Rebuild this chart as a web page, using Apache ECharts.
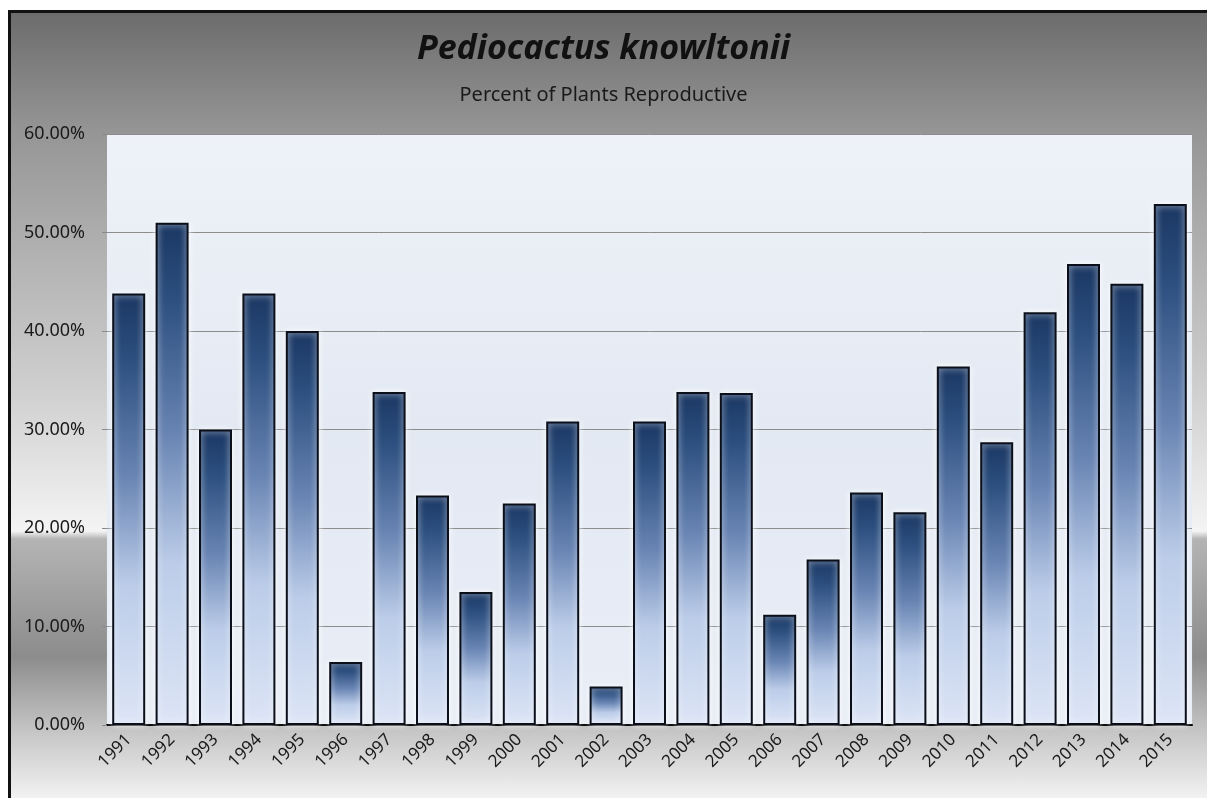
<!DOCTYPE html>
<html>
<head>
<meta charset="utf-8">
<script src="https://cdn.jsdelivr.net/npm/echarts@6/dist/echarts.min.js"></script>
<style>
    html, body { margin: 0; padding: 0; background: #fff; }
    .frame {
        position: absolute;
        left: 8px;
        top: 10px;
        width: 1199px;
        height: 788px;
        box-sizing: border-box;
        border-top: 3px solid #111;
        border-left: 3px solid #111;
        background: linear-gradient(to bottom,
            #6c6c6c 0%, #959595 15%, #b2b2b2 31%, #cfcfcf 48%,
            #f4f4f4 66%, #b4b4b4 67%, #8c8c8c 82%, #c8c8c8 92%, #f2f2f2 100%);
    }
    #chart { position: absolute; left: 0; top: 0; width: 1207px; height: 798px; }
</style>
</head>
<body>
<div class="frame"></div>
<div id="chart"></div>
<script>
const years = ['1991', '1992', '1993', '1994', '1995', '1996', '1997', '1998', '1999', '2000',
    '2001', '2002', '2003', '2004', '2005', '2006', '2007', '2008', '2009', '2010',
    '2011', '2012', '2013', '2014', '2015']
// percent of plants reproductive
const pctReproductive = [43.8, 51.0, 30.0, 43.8, 40.0, 6.4, 33.8, 23.3, 13.5, 22.5,
    30.8, 3.9, 30.8, 33.8, 33.7, 11.2, 16.8, 23.6, 21.6, 36.4,
    28.7, 41.9, 46.8, 44.8, 52.9]
const yTicks = [0, 10, 20, 30, 40, 50, 60]

const chart = echarts.init(document.getElementById('chart'))
const font = "'Noto Sans', 'Open Sans', sans-serif"

chart.setOption({
    animation: false,
    title: [{
        text: 'Pediocactus knowltonii',
        left: 'center',
        top: 27,
        textStyle: {
            fontFamily: font,
            fontSize: 34,
            fontWeight: 'bold',
            fontStyle: 'italic',
            color: '#111'
        }
    }, {
        text: 'Percent of Plants Reproductive',
        left: 'center',
        top: 80,
        textStyle: {
            fontFamily: font,
            fontSize: 20,
            fontWeight: 'normal',
            color: '#1a1a1a'
        }
    }],
    grid: {
        left: 107,
        right: 15,
        top: 134,
        bottom: 73,
        show: true,
        borderWidth: 0,
        backgroundColor: new echarts.graphic.LinearGradient(0, 0, 0, 1, [
            { offset: 0, color: '#eef2f8' },
            { offset: 0.5, color: '#e3e9f3' },
            { offset: 1, color: '#e8edf6' }
        ])
    },
    xAxis: {
        type: 'category',
        data: years,
        axisLine: { lineStyle: { color: '#000', width: 2 } },
        axisTick: { length: 6, lineStyle: { color: '#000', width: 2 } },
        axisLabel: {
            rotate: 45,
            margin: 12,
            fontFamily: font,
            fontSize: 17,
            color: '#1a1a1a'
        }
    },
    yAxis: {
        type: 'value',
        min: yTicks[0],
        max: yTicks[yTicks.length - 1],
        interval: 10,
        axisLine: { show: false },
        axisTick: { show: true, length: 5, lineStyle: { color: '#8a8a8a' } },
        splitLine: { lineStyle: { color: '#8c8c8c', width: 1 } },
        axisLabel: {
            margin: 22,
            fontFamily: font,
            fontSize: 18,
            color: '#1a1a1a',
            formatter: v => v.toFixed(2) + '%'
        }
    },
    series: [{
        type: 'bar',
        data: pctReproductive,
        barWidth: '76%',
        itemStyle: {
            borderColor: '#0a0f1a',
            borderWidth: 2,
            shadowColor: 'rgba(255,255,255,0.9)',
            shadowBlur: 6,
            color: new echarts.graphic.LinearGradient(0, 0, 0, 1, [
                { offset: 0, color: '#1b3763' },
                { offset: 0.15, color: '#2c4f7f' },
                { offset: 0.42, color: '#6884b3' },
                { offset: 0.68, color: '#bccde9' },
                { offset: 1, color: '#dde5f6' }
            ])
        }
    }]
})
</script>
</body>
</html>
